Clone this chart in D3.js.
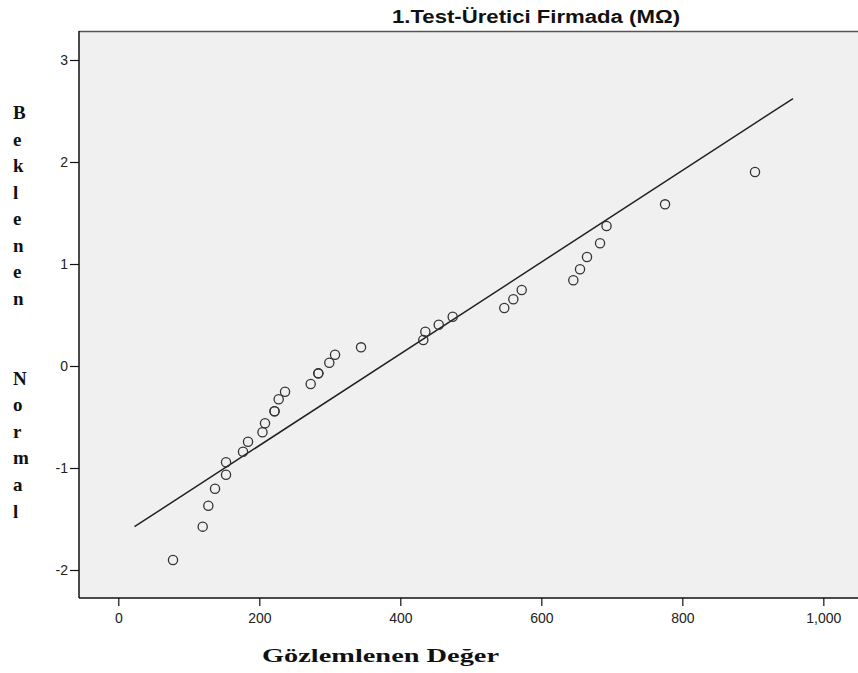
<!DOCTYPE html>
<html><head><meta charset="utf-8">
<script src="https://cdn.jsdelivr.net/npm/d3@7"></script>
<style>body{margin:0;background:#fff}</style>
</head><body>
<svg id="c" width="858" height="673"></svg>
<script>
// Observed values (Gözlemlenen Değer) and expected normal values (Beklenen Normal)
const observed = [77.6, 119.7, 127.7, 137.2, 152.8, 152.8, 176.9, 184.0, 204.5, 208.1,
  221.6, 221.6, 227.5, 236.5, 272.9, 283.7, 283.7, 299.3, 307.4, 344.3,
  432.6, 435.5, 454.5, 474.3, 547.5, 560.3, 572.2, 645.4, 654.9, 664.8,
  683.3, 692.5, 775.5, 903.1];
const expected = [-1.902, -1.575, -1.370, -1.203, -1.066, -0.944, -0.840, -0.742, -0.650, -0.562,
  -0.443, -0.443, -0.326, -0.252, -0.176, -0.072, -0.072, 0.032, 0.111, 0.183,
  0.255, 0.336, 0.405, 0.483, 0.569, 0.654, 0.745, 0.840, 0.948, 1.069,
  1.203, 1.373, 1.585, 1.902];
const xTicks = [0, 200, 400, 600, 800, 1000];
const yTicks = [-2, -1, 0, 1, 2, 3];
const lineX = [23, 957];
const fitMean = 373.5, fitSd = 222.5;
const titleText = "1.Test-Üretici Firmada (MΩ)";
const xLabel = "Gözlemlenen Değer";
const yLabel = "Beklenen  Normal";

const svg = d3.select("#c");
const L = 79, R = 870, T = 31, B = 598;
const x = d3.scaleLinear().domain([-55.74, 1066.2]).range([L, R]);
const y = d3.scaleLinear().domain([-2.2745, 3.2843]).range([B, T]);

svg.append("rect").attr("x", L).attr("y", T).attr("width", R - L).attr("height", B - T)
  .attr("fill", "#f0f0f0");
// top border
svg.append("line").attr("x1", L).attr("x2", R).attr("y1", T + 0.5).attr("y2", T + 0.5)
  .attr("stroke", "#555").attr("stroke-width", 1.6);

// fit line
svg.append("line")
  .attr("x1", x(lineX[0])).attr("y1", y((lineX[0] - fitMean) / fitSd))
  .attr("x2", x(lineX[1])).attr("y2", y((lineX[1] - fitMean) / fitSd))
  .attr("stroke", "#222").attr("stroke-width", 1.5);

// points
svg.append("g").selectAll("circle").data(observed).join("circle")
  .attr("cx", d => x(d)).attr("cy", (d, i) => y(expected[i]))
  .attr("r", 4.6).attr("fill", "none").attr("stroke", "#333").attr("stroke-width", 1.3);

const sans = "Arial, 'Liberation Sans', sans-serif";
const serif = "'Times New Roman', 'Liberation Serif', serif";

// axes
const gx = svg.append("g").attr("transform", `translate(0,${B})`)
  .call(d3.axisBottom(x).tickValues(xTicks).tickSize(8).tickFormat(d3.format(",")));
gx.select(".domain").remove();
gx.selectAll(".tick line").attr("stroke", "#111").attr("stroke-width", 1.2);
gx.selectAll(".tick text").attr("y", 25).attr("dy", 0)
  .attr("font-family", sans).attr("font-size", 14).attr("fill", "#222");

const gy = svg.append("g").attr("transform", `translate(${L},0)`)
  .call(d3.axisLeft(y).tickValues(yTicks).tickSize(9).tickPadding(2).tickFormat(d => String(d)));
gy.select(".domain").remove();
gy.selectAll(".tick line").attr("stroke", "#111").attr("stroke-width", 1.2);
gy.selectAll(".tick text")
  .attr("font-family", sans).attr("font-size", 14).attr("fill", "#222");

svg.append("line").attr("x1", L).attr("x2", R).attr("y1", B).attr("y2", B)
  .attr("stroke", "#111").attr("stroke-width", 1.5);
svg.append("line").attr("x1", L).attr("x2", L).attr("y1", T).attr("y2", B)
  .attr("stroke", "#111").attr("stroke-width", 1.5);

// title
svg.append("text").attr("x", 392).attr("y", 23)
  .attr("textLength", 288).attr("lengthAdjust", "spacingAndGlyphs")
  .attr("font-family", sans).attr("font-weight", "bold")
  .attr("font-size", 18).attr("fill", "#111").text(titleText);

// x label
svg.append("text").attr("x", 262).attr("y", 662)
  .attr("textLength", 237).attr("lengthAdjust", "spacingAndGlyphs")
  .attr("font-family", serif).attr("font-weight", "bold")
  .attr("font-size", 19).attr("fill", "#111").text(xLabel);

// y label (stacked letters)
const yl = svg.append("text")
  .attr("font-family", serif).attr("font-weight", "bold")
  .attr("font-size", 19).attr("fill", "#111");
Array.from(yLabel).forEach((ch, i) => {
  yl.append("tspan").attr("x", 13).attr("y", 119 + i * 26.57).text(ch === " " ? "\u00a0" : ch);
});
</script>
</body></html>
